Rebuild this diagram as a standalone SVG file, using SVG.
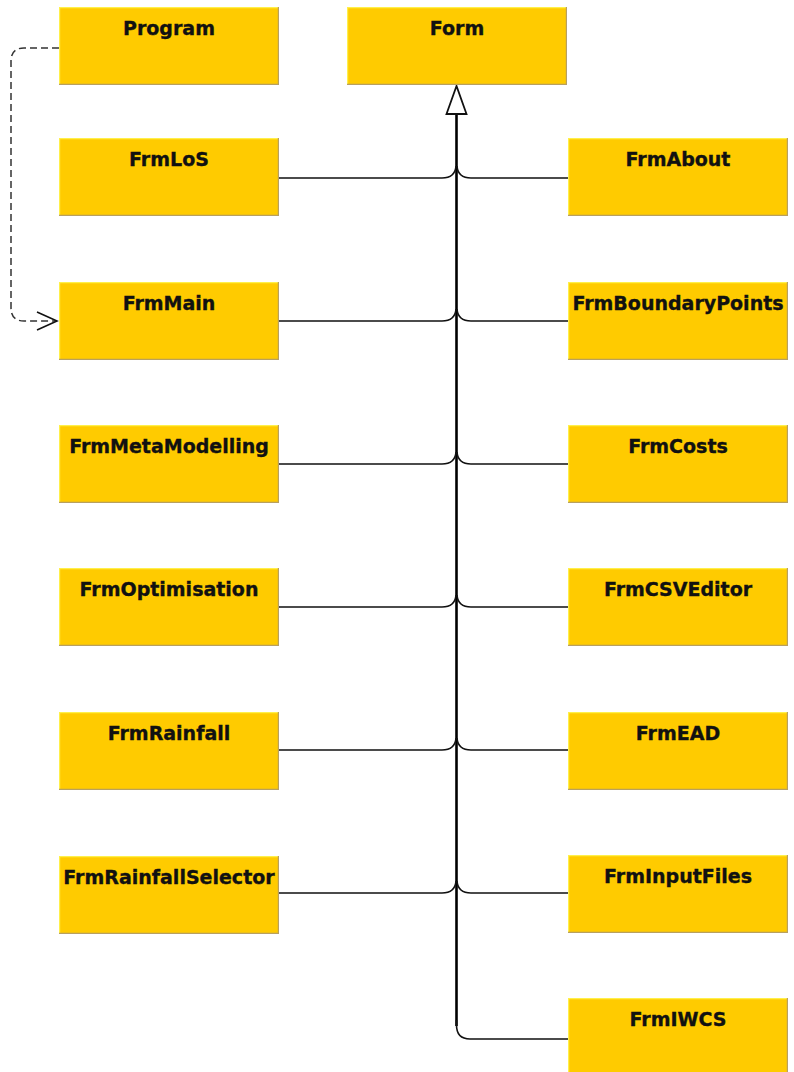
<svg xmlns="http://www.w3.org/2000/svg" width="794" height="1072" viewBox="0 0 794 1072">
  <style>
    .box { fill: #FFCB00; }
    .hi { stroke: #FFF04A; stroke-width: 1.2; fill: none; }
    .sh { stroke: #B8A060; stroke-width: 1.2; fill: none; }
    .lbl { font-family: "DejaVu Sans", "Liberation Sans", sans-serif; font-weight: bold; font-size: 19px; fill: #111; stroke: #111; stroke-width: 0.35; text-anchor: middle; }
    .gen { stroke: #111; stroke-width: 1.6; fill: none; }
    .trunk { stroke: #000; stroke-width: 2.6; fill: none; }
    .dep { stroke: #333; stroke-width: 1.5; fill: none; stroke-dasharray: 7 4; }
  </style>
  <defs>
    <g id="cls">
      <rect class="box" x="0" y="0" width="220" height="78"/>
      <path class="hi" d="M0.6,78 V0.6 H220"/>
      <path class="sh" d="M219.4,0 V77.4 H0"/>
    </g>
  </defs>

  <!-- connectors -->
  <g id="connectors">
    <!-- generalisation trunk up to Form -->
    <path class="trunk" d="M456.5,1026 V114"/>
    <polygon points="456.5,86 446.5,114 466.5,114" fill="#fff" stroke="#111" stroke-width="1.8" stroke-linejoin="miter"/>
    <!-- left subclasses -->
    <path class="gen" d="M279,178 H442 Q455,178 456,166"/>
    <path class="gen" d="M279,321 H442 Q455,321 456,309"/>
    <path class="gen" d="M279,464 H442 Q455,464 456,452"/>
    <path class="gen" d="M279,607 H442 Q455,607 456,595"/>
    <path class="gen" d="M279,750 H442 Q455,750 456,738"/>
    <path class="gen" d="M279,893 H442 Q455,893 456,881"/>
    <!-- right subclasses -->
    <path class="gen" d="M568,178 H471 Q458,178 457,166"/>
    <path class="gen" d="M568,321 H471 Q458,321 457,309"/>
    <path class="gen" d="M568,464 H471 Q458,464 457,452"/>
    <path class="gen" d="M568,607 H471 Q458,607 457,595"/>
    <path class="gen" d="M568,750 H471 Q458,750 457,738"/>
    <path class="gen" d="M568,893 H471 Q458,893 457,881"/>
    <path class="gen" d="M568,1039 H470 Q456.5,1039 456.5,1025 V1020"/>
    <!-- Program uses FrmMain -->
    <path class="dep" d="M59,48 H24 Q11,48 11,61 V308 Q11,321 24,321 H56"/>
    <path d="M37,312 L57,321 L37,330" fill="none" stroke="#111" stroke-width="1.6"/>
  </g>

  <g id="Program"><use href="#cls" x="59" y="7"/><text class="lbl" x="169" y="35">Program</text></g>
  <g id="Form"><use href="#cls" x="347" y="7"/><text class="lbl" x="457" y="35">Form</text></g>

  <g id="FrmLoS"><use href="#cls" x="59" y="138"/><text class="lbl" x="169" y="166">FrmLoS</text></g>
  <g id="FrmMain"><use href="#cls" x="59" y="282"/><text class="lbl" x="169" y="310">FrmMain</text></g>
  <g id="FrmMetaModelling"><use href="#cls" x="59" y="425"/><text class="lbl" x="169" y="453">FrmMetaModelling</text></g>
  <g id="FrmOptimisation"><use href="#cls" x="59" y="568"/><text class="lbl" x="169" y="596">FrmOptimisation</text></g>
  <g id="FrmRainfall"><use href="#cls" x="59" y="712"/><text class="lbl" x="169" y="740">FrmRainfall</text></g>
  <g id="FrmRainfallSelector"><use href="#cls" x="59" y="856"/><text class="lbl" x="169" y="884">FrmRainfallSelector</text></g>

  <g id="FrmAbout"><use href="#cls" x="568" y="138"/><text class="lbl" x="678" y="166">FrmAbout</text></g>
  <g id="FrmBoundaryPoints"><use href="#cls" x="568" y="282"/><text class="lbl" x="678" y="310">FrmBoundaryPoints</text></g>
  <g id="FrmCosts"><use href="#cls" x="568" y="425"/><text class="lbl" x="678" y="453">FrmCosts</text></g>
  <g id="FrmCSVEditor"><use href="#cls" x="568" y="568"/><text class="lbl" x="678" y="596">FrmCSVEditor</text></g>
  <g id="FrmEAD"><use href="#cls" x="568" y="712"/><text class="lbl" x="678" y="740">FrmEAD</text></g>
  <g id="FrmInputFiles"><use href="#cls" x="568" y="855"/><text class="lbl" x="678" y="883">FrmInputFiles</text></g>
  <g id="FrmIWCS"><use href="#cls" x="568" y="998"/><text class="lbl" x="678" y="1026">FrmIWCS</text></g>
</svg>
